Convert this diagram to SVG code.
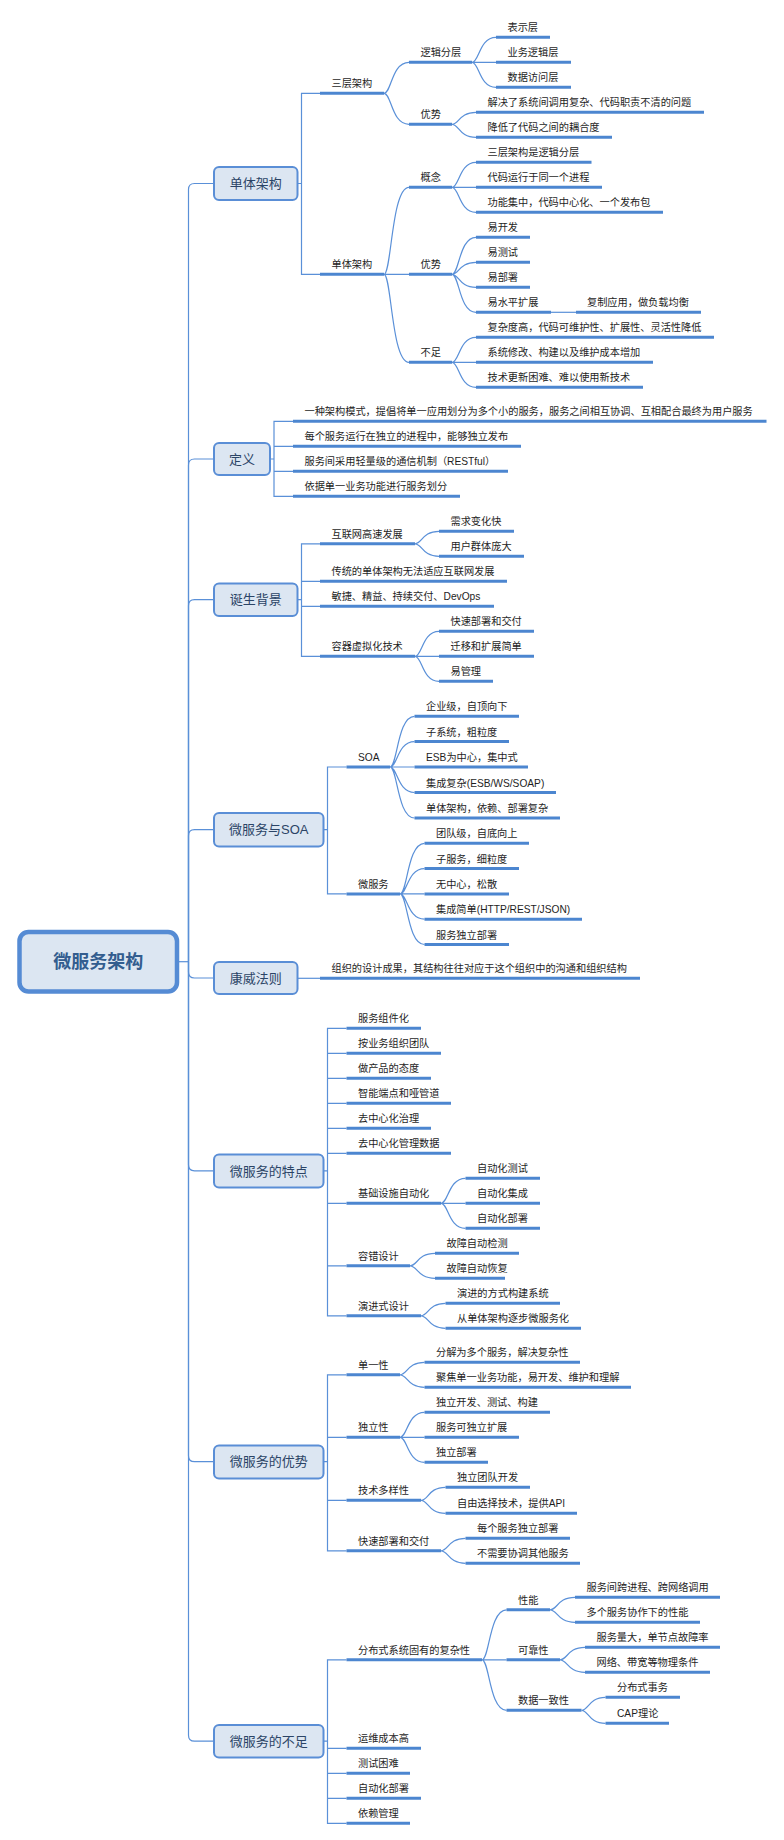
<svg xmlns="http://www.w3.org/2000/svg" width="784" height="1840" viewBox="0 0 784 1840">
<style>
.u{stroke:#4c86d0;stroke-width:3;fill:none}
.c{stroke:#5a90d8;stroke-width:1.2;fill:none}
.t{font-family:"Liberation Sans","Noto Sans CJK SC",sans-serif;font-size:10.2px;fill:#1e1e1e}
.b{fill:#dce6f2;stroke:#5a8ed6;stroke-width:2}
.bt{font-family:"Liberation Sans","Noto Sans CJK SC",sans-serif;font-size:13px;fill:#2b4466;text-anchor:middle}
.r{fill:#dce6f2;stroke:#558bd4;stroke-width:4.5}
.rt{font-family:"Liberation Sans","Noto Sans CJK SC",sans-serif;font-size:18px;font-weight:bold;fill:#335d8f;text-anchor:middle}
</style>
<rect width="784" height="1840" fill="#ffffff"/>
<g id="connectors">
<path class="c" d="M179 961.7H188.5"/>
<path class="c" d="M188.5 961.7V189.5Q188.5 183.5 194.5 183.5H214"/>
<path class="c" d="M188.5 961.7V465Q188.5 459 194.5 459H214"/>
<path class="c" d="M188.5 961.7V605.7Q188.5 599.7 194.5 599.7H214"/>
<path class="c" d="M188.5 961.7V835.7Q188.5 829.7 194.5 829.7H214"/>
<path class="c" d="M188.5 961.7V972Q188.5 978 194.5 978H214"/>
<path class="c" d="M188.5 961.7V1164.8Q188.5 1170.8 194.5 1170.8H214"/>
<path class="c" d="M188.5 961.7V1455.7Q188.5 1461.7 194.5 1461.7H214"/>
<path class="c" d="M188.5 961.7V1735.2Q188.5 1741.2 194.5 1741.2H214"/>
<path class="c" d="M297.5 183.5H301.5M320 93.3H301.5V274.3H320"/>
<path class="c" d="M384 93.3C391.5 93.3 391.5 62.3 409 62.3M384 93.3C391.5 93.3 391.5 124.3 409 124.3"/>
<path class="c" d="M472 62.3C479.2 62.3 479.2 37.3 496 37.3M472 62.3H496M472 62.3C479.2 62.3 479.2 87.3 496 87.3"/>
<path class="c" d="M452 124.3C459.2 124.3 459.2 112.3 476 112.3M452 124.3C459.2 124.3 459.2 137.3 476 137.3"/>
<path class="c" d="M384 274.3C391.5 274.3 391.5 187.3 409 187.3M384 274.3H409M384 274.3C391.5 274.3 391.5 362.3 409 362.3"/>
<path class="c" d="M452 187.3C459.2 187.3 459.2 162.3 476 162.3M452 187.3H476M452 187.3C459.2 187.3 459.2 212.3 476 212.3"/>
<path class="c" d="M452 274.3C459.2 274.3 459.2 237.3 476 237.3M452 274.3C459.2 274.3 459.2 262.3 476 262.3M452 274.3C459.2 274.3 459.2 287.3 476 287.3M452 274.3C459.2 274.3 459.2 312.3 476 312.3"/>
<path class="c" d="M551 312.3H576"/>
<path class="c" d="M452 362.3C459.2 362.3 459.2 337.3 476 337.3M452 362.3H476M452 362.3C459.2 362.3 459.2 387.3 476 387.3"/>
<path class="c" d="M270 459H274M293 421.3H274V496.3H293M274 446.3H293M274 471.3H293"/>
<path class="c" d="M297.5 599.7H301.5M320 543.8H301.5V656.3H320M301.5 581.3H320M301.5 606.3H320"/>
<path class="c" d="M415 543.8C422.2 543.8 422.2 531.3 439 531.3M415 543.8C422.2 543.8 422.2 556.3 439 556.3"/>
<path class="c" d="M415 656.3C422.2 656.3 422.2 631.3 439 631.3M415 656.3H439M415 656.3C422.2 656.3 422.2 681.3 439 681.3"/>
<path class="c" d="M323.5 829.7H327.5M346.5 767H327.5V893.9H346.5"/>
<path class="c" d="M390 767C397.4 767 397.4 716.3 414.5 716.3M390 767C397.4 767 397.4 741.6 414.5 741.6M390 767H414.5M390 767C397.4 767 397.4 792.5 414.5 792.5M390 767C397.4 767 397.4 818 414.5 818"/>
<path class="c" d="M400 893.9C407.4 893.9 407.4 843.3 424.5 843.3M400 893.9C407.4 893.9 407.4 868.6 424.5 868.6M400 893.9H424.5M400 893.9C407.4 893.9 407.4 919.2 424.5 919.2M400 893.9C407.4 893.9 407.4 944.5 424.5 944.5"/>
<path class="c" d="M297.5 978.3H320"/>
<path class="c" d="M323.5 1170.8H327.5M346.5 1028.3H327.5V1315.8H346.5M327.5 1053.3H346.5M327.5 1078.3H346.5M327.5 1103.3H346.5M327.5 1128.3H346.5M327.5 1153.3H346.5M327.5 1203.3H346.5M327.5 1265.8H346.5"/>
<path class="c" d="M441 1203.3C448.4 1203.3 448.4 1178.3 465.5 1178.3M441 1203.3H465.5M441 1203.3C448.4 1203.3 448.4 1228.3 465.5 1228.3"/>
<path class="c" d="M410 1265.8C417.5 1265.8 417.5 1253.3 435 1253.3M410 1265.8C417.5 1265.8 417.5 1278.3 435 1278.3"/>
<path class="c" d="M421 1315.8C428.4 1315.8 428.4 1303.3 445.5 1303.3M421 1315.8C428.4 1315.8 428.4 1328.3 445.5 1328.3"/>
<path class="c" d="M323.5 1461.7H327.5M346.5 1374.8H327.5V1550.8H346.5M327.5 1437.3H346.5M327.5 1500.3H346.5"/>
<path class="c" d="M400 1374.8C407.4 1374.8 407.4 1362.3 424.5 1362.3M400 1374.8C407.4 1374.8 407.4 1387.3 424.5 1387.3"/>
<path class="c" d="M400 1437.3C407.4 1437.3 407.4 1412.3 424.5 1412.3M400 1437.3H424.5M400 1437.3C407.4 1437.3 407.4 1462.3 424.5 1462.3"/>
<path class="c" d="M421 1500.3C428.4 1500.3 428.4 1487.3 445.5 1487.3M421 1500.3C428.4 1500.3 428.4 1513.3 445.5 1513.3"/>
<path class="c" d="M441 1550.8C448.4 1550.8 448.4 1538.3 465.5 1538.3M441 1550.8C448.4 1550.8 448.4 1563.3 465.5 1563.3"/>
<path class="c" d="M323.5 1741.2H327.5M346.5 1659.8H327.5V1823.3H346.5M327.5 1748.3H346.5M327.5 1773.3H346.5M327.5 1798.3H346.5"/>
<path class="c" d="M482 1659.8C489.4 1659.8 489.4 1609.8 506.5 1609.8M482 1659.8H506.5M482 1659.8C489.4 1659.8 489.4 1710.3 506.5 1710.3"/>
<path class="c" d="M550 1609.8C557.5 1609.8 557.5 1597.3 575 1597.3M550 1609.8C557.5 1609.8 557.5 1622.3 575 1622.3"/>
<path class="c" d="M560 1659.8C567.5 1659.8 567.5 1647.3 585 1647.3M560 1659.8C567.5 1659.8 567.5 1672.3 585 1672.3"/>
<path class="c" d="M581.5 1710.3C588.7 1710.3 588.7 1697.3 605.5 1697.3M581.5 1710.3C588.7 1710.3 588.7 1723.3 605.5 1723.3"/>
</g>
<g id="root"><rect class="r" x="19.5" y="932" width="157.5" height="59.5" rx="9"/><text class="rt" x="98.3" y="968">微服务架构</text></g>
<g id="box-danti"><rect class="b" x="214" y="167" width="83.5" height="33" rx="5"/><text class="bt" x="255.8" y="188">单体架构</text></g>
<g id="box-dingyi"><rect class="b" x="214" y="443" width="56" height="32" rx="5"/><text class="bt" x="242" y="463.5">定义</text></g>
<g id="box-dansheng"><rect class="b" x="214" y="583.5" width="83.5" height="32.5" rx="5"/><text class="bt" x="255.8" y="604.3">诞生背景</text></g>
<g id="box-soa"><rect class="b" x="214" y="813" width="109.5" height="33.5" rx="5"/><text class="bt" x="268.8" y="834.3">微服务与SOA</text></g>
<g id="box-kangwei"><rect class="b" x="214" y="962" width="83.5" height="32" rx="5"/><text class="bt" x="255.8" y="982.6">康威法则</text></g>
<g id="box-tedian"><rect class="b" x="214" y="1154.5" width="109.5" height="33" rx="5"/><text class="bt" x="268.8" y="1175.5">微服务的特点</text></g>
<g id="box-youshi"><rect class="b" x="214" y="1445.5" width="109.5" height="33" rx="5"/><text class="bt" x="268.8" y="1466.4">微服务的优势</text></g>
<g id="box-buzu"><rect class="b" x="214" y="1725" width="109.5" height="32.5" rx="5"/><text class="bt" x="268.8" y="1745.8">微服务的不足</text></g>

<g id="n-sanceng"><path class="u" d="M320 93.3H384"/><text class="t" x="331.5" y="87.3">三层架构</text></g>
<g id="n-luoji"><path class="u" d="M409 62.3H472"/><text class="t" x="420.5" y="56.3">逻辑分层</text></g>
<g id="n-biaoshi"><path class="u" d="M496 37.3H550"/><text class="t" x="507.5" y="31.3">表示层</text></g>
<g id="n-yewu"><path class="u" d="M496 62.3H571"/><text class="t" x="507.5" y="56.3">业务逻辑层</text></g>
<g id="n-shuju"><path class="u" d="M496 87.3H571"/><text class="t" x="507.5" y="81.3">数据访问层</text></g>
<g id="n-youshi1"><path class="u" d="M409 124.3H452"/><text class="t" x="420.5" y="118.3">优势</text></g>
<g id="n-jiejue"><path class="u" d="M476 112.3H704"/><text class="t" x="487.5" y="106.3">解决了系统间调用复杂、代码职责不清的问题</text></g>
<g id="n-jiangdi"><path class="u" d="M476 137.3H612"/><text class="t" x="487.5" y="131.3">降低了代码之间的耦合度</text></g>
<g id="n-danti2"><path class="u" d="M320 274.3H384"/><text class="t" x="331.5" y="268.3">单体架构</text></g>
<g id="n-gainian"><path class="u" d="M409 187.3H452"/><text class="t" x="420.5" y="181.3">概念</text></g>
<g id="n-sc-luoji"><path class="u" d="M476 162.3H591.5"/><text class="t" x="487.5" y="156.3">三层架构是逻辑分层</text></g>
<g id="n-tongyi"><path class="u" d="M476 187.3H602"/><text class="t" x="487.5" y="181.3">代码运行于同一个进程</text></g>
<g id="n-jizhong"><path class="u" d="M476 212.3H663"/><text class="t" x="487.5" y="206.3">功能集中，代码中心化、一个发布包</text></g>
<g id="n-youshi2"><path class="u" d="M409 274.3H452"/><text class="t" x="420.5" y="268.3">优势</text></g>
<g id="n-yikaifa"><path class="u" d="M476 237.3H530"/><text class="t" x="487.5" y="231.3">易开发</text></g>
<g id="n-yiceshi"><path class="u" d="M476 262.3H530"/><text class="t" x="487.5" y="256.3">易测试</text></g>
<g id="n-yibushu"><path class="u" d="M476 287.3H530"/><text class="t" x="487.5" y="281.3">易部署</text></g>
<g id="n-yishuiping"><path class="u" d="M476 312.3H551"/><text class="t" x="487.5" y="306.3">易水平扩展</text></g>
<g id="n-fuzhi"><path class="u" d="M576 312.3H701"/><text class="t" x="587" y="306.3">复制应用，做负载均衡</text></g>
<g id="n-buzu1"><path class="u" d="M409 362.3H452"/><text class="t" x="420.5" y="356.3">不足</text></g>
<g id="n-fuzadu"><path class="u" d="M476 337.3H714"/><text class="t" x="487.5" y="331.3">复杂度高，代码可维护性、扩展性、灵活性降低</text></g>
<g id="n-xiugai"><path class="u" d="M476 362.3H653"/><text class="t" x="487.5" y="356.3">系统修改、构建以及维护成本增加</text></g>
<g id="n-gengxin"><path class="u" d="M476 387.3H643"/><text class="t" x="487.5" y="381.3">技术更新困难、难以使用新技术</text></g>

<g id="n-def1"><path class="u" d="M293 421.3H766.5"/><text class="t" x="304.5" y="415.3">一种架构模式，提倡将单一应用划分为多个小的服务，服务之间相互协调、互相配合最终为用户服务</text></g>
<g id="n-def2"><path class="u" d="M293 446.3H521"/><text class="t" x="304.5" y="440.3">每个服务运行在独立的进程中，能够独立发布</text></g>
<g id="n-def3"><path class="u" d="M293 471.3H508"/><text class="t" x="304.5" y="465.3">服务间采用轻量级的通信机制（RESTful）</text></g>
<g id="n-def4"><path class="u" d="M293 496.3H460"/><text class="t" x="304.5" y="490.3">依据单一业务功能进行服务划分</text></g>

<g id="n-hulianwang"><path class="u" d="M320 543.8H415"/><text class="t" x="331.5" y="537.8">互联网高速发展</text></g>
<g id="n-xuqiu"><path class="u" d="M439 531.3H514"/><text class="t" x="450.5" y="525.3">需求变化快</text></g>
<g id="n-yonghu"><path class="u" d="M439 556.3H524"/><text class="t" x="450.5" y="550.3">用户群体庞大</text></g>
<g id="n-chuantong"><path class="u" d="M320 581.3H507"/><text class="t" x="331.5" y="575.3">传统的单体架构无法适应互联网发展</text></g>
<g id="n-minjie"><path class="u" d="M320 606.3H494"/><text class="t" x="331.5" y="600.3">敏捷、精益、持续交付、DevOps</text></g>
<g id="n-rongqi"><path class="u" d="M320 656.3H415"/><text class="t" x="331.5" y="650.3">容器虚拟化技术</text></g>
<g id="n-kuaisu1"><path class="u" d="M439 631.3H534"/><text class="t" x="450.5" y="625.3">快速部署和交付</text></g>
<g id="n-qianyi"><path class="u" d="M439 656.3H534"/><text class="t" x="450.5" y="650.3">迁移和扩展简单</text></g>
<g id="n-yiguanli"><path class="u" d="M439 681.3H493"/><text class="t" x="450.5" y="675.3">易管理</text></g>

<g id="n-soa"><path class="u" d="M346.5 767H390"/><text class="t" x="358" y="761">SOA</text></g>
<g id="n-soa1"><path class="u" d="M414.5 716.3H519"/><text class="t" x="426" y="710.3">企业级，自顶向下</text></g>
<g id="n-soa2"><path class="u" d="M414.5 741.6H509"/><text class="t" x="426" y="735.6">子系统，粗粒度</text></g>
<g id="n-soa3"><path class="u" d="M414.5 767H528"/><text class="t" x="426" y="761">ESB为中心，集中式</text></g>
<g id="n-soa4"><path class="u" d="M414.5 792.5H556"/><text class="t" x="426" y="786.5">集成复杂(ESB/WS/SOAP)</text></g>
<g id="n-soa5"><path class="u" d="M414.5 818H560"/><text class="t" x="426" y="812">单体架构，依赖、部署复杂</text></g>
<g id="n-ms"><path class="u" d="M346.5 893.9H400"/><text class="t" x="358" y="887.9">微服务</text></g>
<g id="n-ms1"><path class="u" d="M424.5 843.3H529"/><text class="t" x="436" y="837.3">团队级，自底向上</text></g>
<g id="n-ms2"><path class="u" d="M424.5 868.6H519"/><text class="t" x="436" y="862.6">子服务，细粒度</text></g>
<g id="n-ms3"><path class="u" d="M424.5 893.9H509"/><text class="t" x="436" y="887.9">无中心，松散</text></g>
<g id="n-ms4"><path class="u" d="M424.5 919.2H582"/><text class="t" x="436" y="913.2">集成简单(HTTP/REST/JSON)</text></g>
<g id="n-ms5"><path class="u" d="M424.5 944.5H509"/><text class="t" x="436" y="938.5">服务独立部署</text></g>

<g id="n-conway"><path class="u" d="M320 978.3H640"/><text class="t" x="331.5" y="972.3">组织的设计成果，其结构往往对应于这个组织中的沟通和组织结构</text></g>

<g id="n-td1"><path class="u" d="M346.5 1028.3H421"/><text class="t" x="358" y="1022.3">服务组件化</text></g>
<g id="n-td2"><path class="u" d="M346.5 1053.3H441"/><text class="t" x="358" y="1047.3">按业务组织团队</text></g>
<g id="n-td3"><path class="u" d="M346.5 1078.3H431"/><text class="t" x="358" y="1072.3">做产品的态度</text></g>
<g id="n-td4"><path class="u" d="M346.5 1103.3H451"/><text class="t" x="358" y="1097.3">智能端点和哑管道</text></g>
<g id="n-td5"><path class="u" d="M346.5 1128.3H431"/><text class="t" x="358" y="1122.3">去中心化治理</text></g>
<g id="n-td6"><path class="u" d="M346.5 1153.3H451"/><text class="t" x="358" y="1147.3">去中心化管理数据</text></g>
<g id="n-td7"><path class="u" d="M346.5 1203.3H441"/><text class="t" x="358" y="1197.3">基础设施自动化</text></g>
<g id="n-td7a"><path class="u" d="M465.5 1178.3H540"/><text class="t" x="477" y="1172.3">自动化测试</text></g>
<g id="n-td7b"><path class="u" d="M465.5 1203.3H540"/><text class="t" x="477" y="1197.3">自动化集成</text></g>
<g id="n-td7c"><path class="u" d="M465.5 1228.3H540"/><text class="t" x="477" y="1222.3">自动化部署</text></g>
<g id="n-td8"><path class="u" d="M346.5 1265.8H410"/><text class="t" x="358" y="1259.8">容错设计</text></g>
<g id="n-td8a"><path class="u" d="M435 1253.3H519"/><text class="t" x="446.5" y="1247.3">故障自动检测</text></g>
<g id="n-td8b"><path class="u" d="M435 1278.3H505"/><text class="t" x="446.5" y="1272.3">故障自动恢复</text></g>
<g id="n-td9"><path class="u" d="M346.5 1315.8H421"/><text class="t" x="358" y="1309.8">演进式设计</text></g>
<g id="n-td9a"><path class="u" d="M445.5 1303.3H560"/><text class="t" x="457" y="1297.3">演进的方式构建系统</text></g>
<g id="n-td9b"><path class="u" d="M445.5 1328.3H581"/><text class="t" x="457" y="1322.3">从单体架构逐步微服务化</text></g>

<g id="n-ys1"><path class="u" d="M346.5 1374.8H400"/><text class="t" x="358" y="1368.8">单一性</text></g>
<g id="n-ys1a"><path class="u" d="M424.5 1362.3H580"/><text class="t" x="436" y="1356.3">分解为多个服务，解决复杂性</text></g>
<g id="n-ys1b"><path class="u" d="M424.5 1387.3H631"/><text class="t" x="436" y="1381.3">聚焦单一业务功能，易开发、维护和理解</text></g>
<g id="n-ys2"><path class="u" d="M346.5 1437.3H400"/><text class="t" x="358" y="1431.3">独立性</text></g>
<g id="n-ys2a"><path class="u" d="M424.5 1412.3H550"/><text class="t" x="436" y="1406.3">独立开发、测试、构建</text></g>
<g id="n-ys2b"><path class="u" d="M424.5 1437.3H519"/><text class="t" x="436" y="1431.3">服务可独立扩展</text></g>
<g id="n-ys2c"><path class="u" d="M424.5 1462.3H488"/><text class="t" x="436" y="1456.3">独立部署</text></g>
<g id="n-ys3"><path class="u" d="M346.5 1500.3H421"/><text class="t" x="358" y="1494.3">技术多样性</text></g>
<g id="n-ys3a"><path class="u" d="M445.5 1487.3H530"/><text class="t" x="457" y="1481.3">独立团队开发</text></g>
<g id="n-ys3b"><path class="u" d="M445.5 1513.3H577"/><text class="t" x="457" y="1507.3">自由选择技术，提供API</text></g>
<g id="n-ys4"><path class="u" d="M346.5 1550.8H441"/><text class="t" x="358" y="1544.8">快速部署和交付</text></g>
<g id="n-ys4a"><path class="u" d="M465.5 1538.3H570"/><text class="t" x="477" y="1532.3">每个服务独立部署</text></g>
<g id="n-ys4b"><path class="u" d="M465.5 1563.3H580"/><text class="t" x="477" y="1557.3">不需要协调其他服务</text></g>

<g id="n-bz1"><path class="u" d="M346.5 1659.8H482"/><text class="t" x="358" y="1653.8">分布式系统固有的复杂性</text></g>
<g id="n-bz1a"><path class="u" d="M506.5 1609.8H550"/><text class="t" x="518" y="1603.8">性能</text></g>
<g id="n-bz1a1"><path class="u" d="M575 1597.3H720"/><text class="t" x="586.5" y="1591.3">服务间跨进程、跨网络调用</text></g>
<g id="n-bz1a2"><path class="u" d="M575 1622.3H700"/><text class="t" x="586.5" y="1616.3">多个服务协作下的性能</text></g>
<g id="n-bz1b"><path class="u" d="M506.5 1659.8H560"/><text class="t" x="518" y="1653.8">可靠性</text></g>
<g id="n-bz1b1"><path class="u" d="M585 1647.3H720"/><text class="t" x="596.5" y="1641.3">服务量大，单节点故障率</text></g>
<g id="n-bz1b2"><path class="u" d="M585 1672.3H710"/><text class="t" x="596.5" y="1666.3">网络、带宽等物理条件</text></g>
<g id="n-bz1c"><path class="u" d="M506.5 1710.3H581.5"/><text class="t" x="518" y="1704.3">数据一致性</text></g>
<g id="n-bz1c1"><path class="u" d="M605.5 1697.3H680"/><text class="t" x="617" y="1691.3">分布式事务</text></g>
<g id="n-bz1c2"><path class="u" d="M605.5 1723.3H669"/><text class="t" x="617" y="1717.3">CAP理论</text></g>
<g id="n-bz2"><path class="u" d="M346.5 1748.3H421"/><text class="t" x="358" y="1742.3">运维成本高</text></g>
<g id="n-bz3"><path class="u" d="M346.5 1773.3H410"/><text class="t" x="358" y="1767.3">测试困难</text></g>
<g id="n-bz4"><path class="u" d="M346.5 1798.3H421"/><text class="t" x="358" y="1792.3">自动化部署</text></g>
<g id="n-bz5"><path class="u" d="M346.5 1823.3H410"/><text class="t" x="358" y="1817.3">依赖管理</text></g>
</svg>
